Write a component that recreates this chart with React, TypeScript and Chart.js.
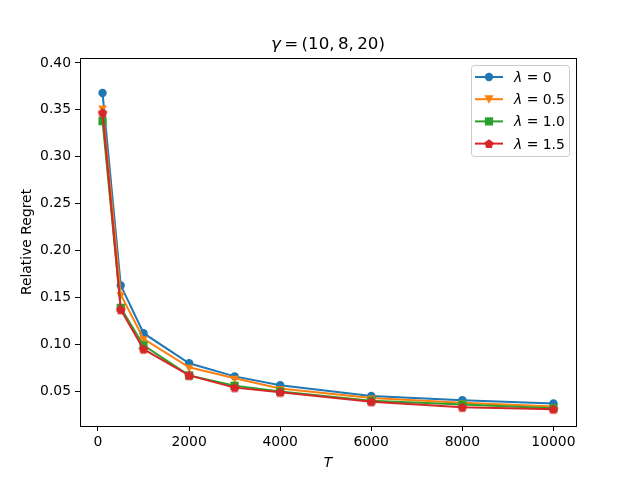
import React, { useEffect, useRef } from 'react';
import { Chart, registerables } from 'chart.js';

Chart.register(...registerables);

const horizons = [100, 500, 1000, 2000, 3000, 4000, 6000, 8000, 10000];
const regretLambda0 = [0.368, 0.163, 0.112, 0.080, 0.066, 0.0565, 0.045, 0.0405, 0.037];
const regretLambda05 = [0.352, 0.153, 0.106, 0.0757, 0.064, 0.053, 0.043, 0.038, 0.034];
const regretLambda10 = [0.338, 0.139, 0.099, 0.067, 0.056, 0.050, 0.040, 0.036, 0.032];
const regretLambda15 = [0.347, 0.137, 0.095, 0.067, 0.054, 0.049, 0.039, 0.033, 0.031];
const lambdaLabels = ['0', '0.5', '1.0', '1.5'];
const xTicks = [0, 2000, 4000, 6000, 8000, 10000];
const yTicks = [0.05, 0.1, 0.15, 0.2, 0.25, 0.3, 0.35, 0.4];

const COLORS = ['#1f77b4', '#ff7f0e', '#2ca02c', '#d62728'];
const FONT = '"DejaVu Sans", sans-serif';
const FS = 13.9;
const THIN = '\u2009';

function pentagonPath(ctx: CanvasRenderingContext2D, x: number, y: number, r: number) {
  ctx.beginPath();
  for (let i = 0; i < 5; i++) {
    const a = -Math.PI / 2 + (i * 2 * Math.PI) / 5;
    const px = x + r * Math.cos(a);
    const py = y + r * Math.sin(a);
    if (i === 0) ctx.moveTo(px, py);
    else ctx.lineTo(px, py);
  }
  ctx.closePath();
}

function makePentagon(color: string) {
  const c = document.createElement('canvas');
  c.width = 12;
  c.height = 12;
  const g = c.getContext('2d')!;
  g.fillStyle = color;
  pentagonPath(g, 6, 6.4, 5);
  g.fill();
  return c;
}

function drawMarker(ctx: CanvasRenderingContext2D, i: number, x: number, y: number) {
  ctx.fillStyle = COLORS[i];
  ctx.beginPath();
  if (i === 0) {
    ctx.arc(x, y, 4.2, 0, Math.PI * 2);
  } else if (i === 1) {
    ctx.moveTo(x - 4.6, y - 4);
    ctx.lineTo(x + 4.6, y - 4);
    ctx.lineTo(x, y + 4.6);
    ctx.closePath();
  } else if (i === 2) {
    ctx.rect(x - 4.1, y - 4.1, 8.2, 8.2);
  } else {
    pentagonPath(ctx, x, y + 0.4, 4.8);
  }
  ctx.fill();
}

// draws pieces of text, italic where asked, starting at x
function drawPieces(ctx: CanvasRenderingContext2D, pieces: [string, boolean][], x: number, y: number, size: number) {
  let cx = x;
  for (const [t, it] of pieces) {
    ctx.font = `${it ? 'italic ' : ''}${size}px ${FONT}`;
    ctx.fillText(t, cx, y);
    cx += ctx.measureText(t).width;
  }
}

function piecesWidth(ctx: CanvasRenderingContext2D, pieces: [string, boolean][], size: number) {
  let w = 0;
  for (const [t, it] of pieces) {
    ctx.font = `${it ? 'italic ' : ''}${size}px ${FONT}`;
    w += ctx.measureText(t).width;
  }
  return w;
}

const decorPlugin = {
  id: 'decor',
  afterDraw(chart: any) {
    const ctx: CanvasRenderingContext2D = chart.ctx;
    const a = chart.chartArea;
    ctx.save();
    // frame
    ctx.strokeStyle = '#000';
    ctx.lineWidth = 1;
    ctx.strokeRect(a.left + 0.5, a.top + 0.5, a.right - a.left, a.bottom - a.top);

    ctx.fillStyle = '#000';
    ctx.textBaseline = 'alphabetic';
    const cx = (a.left + a.right) / 2;

    // title
    const title: [string, boolean][] = [
      ['γ', true],
      [`${THIN}=${THIN}(10,${THIN}8,${THIN}20)`, false],
    ];
    const tw = piecesWidth(ctx, title, 16.7);
    drawPieces(ctx, title, cx - tw / 2, 49, 16.7);

    // x label
    ctx.font = `italic ${FS}px ${FONT}`;
    ctx.textAlign = 'center';
    ctx.fillText('T', cx, 467);

    // y label
    ctx.save();
    ctx.translate(31, (a.top + a.bottom) / 2);
    ctx.rotate(-Math.PI / 2);
    ctx.font = `${FS}px ${FONT}`;
    ctx.fillText('Relative Regret', 0, 0);
    ctx.restore();
    ctx.textAlign = 'left';

    // legend
    const lx = 471, ly = 65, lw = 98, lh = 91;
    ctx.fillStyle = 'rgba(255,255,255,0.8)';
    ctx.strokeStyle = '#cccccc';
    ctx.beginPath();
    ctx.roundRect(lx + 0.5, ly + 0.5, lw, lh, 3);
    ctx.fill();
    ctx.stroke();
    for (let i = 0; i < 4; i++) {
      const yy = 77 + i * 22.2;
      ctx.strokeStyle = COLORS[i];
      ctx.lineWidth = 2;
      ctx.beginPath();
      ctx.moveTo(475, yy);
      ctx.lineTo(503, yy);
      ctx.stroke();
      drawMarker(ctx, i, 489, yy);
      ctx.fillStyle = '#000';
      drawPieces(ctx, [['λ', true], [' = ' + lambdaLabels[i], false]], 514, yy + 5, FS);
    }
    ctx.restore();
  },
};

export default function App() {
  const canvasRef = useRef<HTMLCanvasElement | null>(null);

  useEffect(() => {
    const ctx = canvasRef.current?.getContext('2d');
    if (!ctx) return;
    const series = [regretLambda0, regretLambda05, regretLambda10, regretLambda15];
    const styles: any[] = ['circle', 'triangle', 'rect', makePentagon(COLORS[3])];
    const radii = [4.2, 5, 5.8, 6];
    const chart = new Chart(ctx, {
      type: 'line',
      data: {
        datasets: series.map((vals, i) => ({
          label: 'λ = ' + lambdaLabels[i],
          data: horizons.map((t, j) => ({ x: t, y: vals[j] })),
          borderColor: COLORS[i],
          backgroundColor: COLORS[i],
          borderWidth: 2,
          pointStyle: styles[i],
          pointRotation: i === 1 ? 180 : 0,
          pointRadius: radii[i],
          pointBorderWidth: 0,
          order: 3 - i,
        })),
      },
      options: {
        animation: false,
        responsive: false,
        layout: { padding: { left: 0, right: 64, top: 58, bottom: 0 } },
        plugins: { legend: { display: false }, tooltip: { enabled: false }, title: { display: false } },
        scales: {
          x: {
            type: 'linear',
            min: -395,
            max: 10495,
            afterBuildTicks: (s: any) => {
              s.ticks = xTicks.map((v) => ({ value: v }));
            },
            afterFit: (s: any) => {
              s.height = 54;
            },
            grid: { drawOnChartArea: false, drawTicks: true, tickLength: 5, color: '#000' },
            border: { display: false },
            ticks: { color: '#000', font: { family: FONT, size: FS }, padding: 3, maxRotation: 0, callback: (v: any) => String(v) },
          },
          y: {
            type: 'linear',
            min: 0.0131,
            max: 0.4053,
            afterBuildTicks: (s: any) => {
              s.ticks = yTicks.map((v) => ({ value: v }));
            },
            afterFit: (s: any) => {
              s.width = 80;
            },
            grid: { drawOnChartArea: false, drawTicks: true, tickLength: 5, color: '#000' },
            border: { display: false },
            ticks: { color: '#000', font: { family: FONT, size: FS }, padding: 4, callback: (v: any) => Number(v).toFixed(2) },
          },
        },
      },
      plugins: [decorPlugin],
    });
    return () => chart.destroy();
  }, []);

  return (
    <div style={{ position: 'absolute', left: 0, top: 0, width: 640, height: 480, background: '#fff' }}>
      <canvas ref={canvasRef} width={640} height={480} style={{ width: 640, height: 480 }} />
    </div>
  );
}
